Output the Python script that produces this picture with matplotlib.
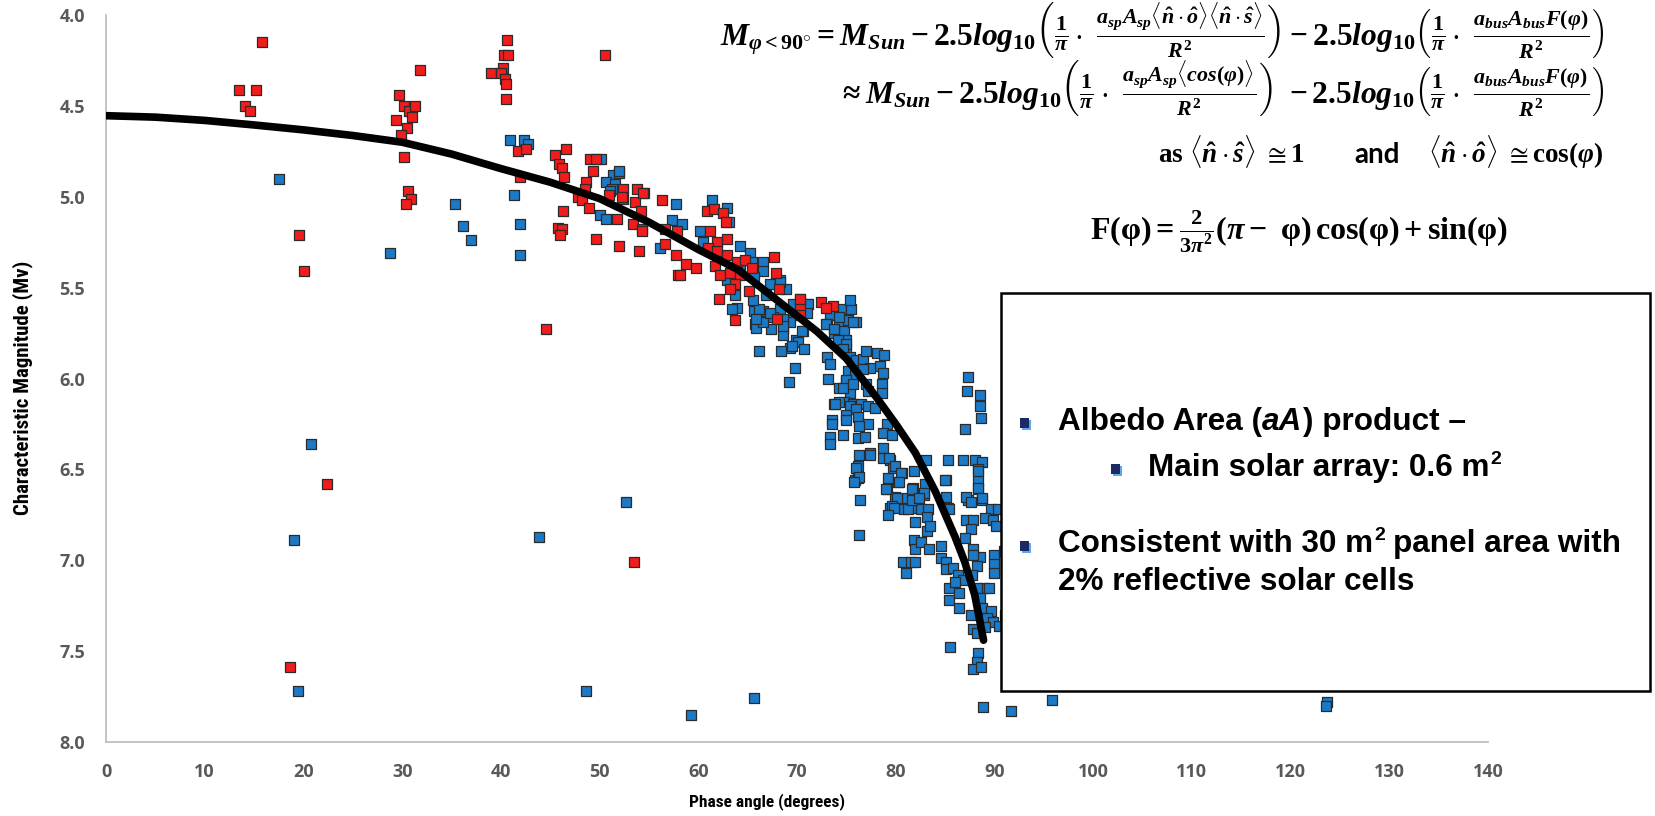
import matplotlib
matplotlib.use("Agg")
import matplotlib.pyplot as plt
from matplotlib.patches import Rectangle

# ---------------------------------------------------------------- data
blue_points = [
    (17.5, 4.90), (28.8, 5.31), (20.8, 6.36), (19.0, 6.89), (19.5, 7.72), (35.4, 5.04),
    (36.2, 5.16), (37.0, 5.24), (40.9, 4.69), (42.3, 4.69), (42.8, 4.71), (41.3, 4.99),
    (41.9, 5.15), (41.9, 5.32), (43.9, 6.87), (48.6, 7.72), (52.7, 6.68), (59.3, 7.85),
    (65.6, 7.76), (88.8, 7.81), (91.7, 7.83), (95.8, 7.77), (123.7, 7.78), (123.6, 7.80),
    (51.4, 4.88), (52.0, 4.87), (50.7, 4.92), (51.6, 4.93), (51.3, 4.96), (50.0, 5.10),
    (50.7, 5.12), (52.0, 4.86), (51.1, 4.97), (50.1, 4.79), (57.7, 5.04), (57.3, 5.13),
    (56.1, 5.28), (58.3, 5.15), (60.2, 5.19), (61.4, 5.02), (62.9, 5.06), (63.1, 5.14),
    (60.5, 5.25), (64.2, 5.27), (65.2, 5.31), (66.6, 5.36), (65.4, 5.36), (64.2, 5.37),
    (66.6, 5.41), (62.9, 5.46), (65.6, 5.44), (67.3, 5.48), (68.3, 5.46), (66.9, 5.54),
    (68.9, 5.51), (70.3, 5.56), (71.0, 5.59), (69.6, 5.59), (68.3, 5.62), (66.6, 5.63),
    (65.9, 5.66), (67.6, 5.66), (68.9, 5.68), (65.7, 5.70), (67.4, 5.73), (68.6, 5.72),
    (69.3, 5.69), (68.6, 5.76), (70.6, 5.74), (69.9, 5.79), (69.3, 5.83), (68.4, 5.85),
    (66.2, 5.85), (69.8, 5.94), (69.2, 6.02), (63.7, 5.54), (63.9, 5.61), (63.4, 5.62),
    (71.1, 5.59), (73.3, 5.65), (74.5, 5.62), (75.5, 5.62), (73.0, 5.70), (74.3, 5.70),
    (75.2, 5.68), (76.0, 5.69), (73.7, 5.75), (74.8, 5.74), (75.0, 5.79), (73.0, 5.88),
    (73.3, 5.92), (75.0, 5.84), (75.7, 5.92), (75.2, 5.96), (76.0, 5.95), (73.1, 6.00),
    (75.0, 6.02), (74.3, 6.05), (75.4, 6.08), (74.8, 6.13), (73.7, 6.14), (75.7, 6.14),
    (65.6, 5.63), (66.2, 5.62), (65.8, 5.72), (66.6, 5.69), (68.3, 5.47), (65.5, 5.57),
    (67.3, 5.64), (65.8, 5.67), (68.6, 5.67), (68.6, 5.71), (70.5, 5.74), (71.0, 5.64),
    (70.1, 5.80), (69.5, 5.82), (70.7, 5.84), (72.9, 5.70), (74.3, 5.66), (75.4, 5.57),
    (73.7, 5.73), (74.2, 5.79), (75.0, 5.81), (75.7, 5.69), (74.7, 5.84), (75.4, 5.88),
    (76.0, 5.90), (76.7, 5.89), (77.0, 5.85), (78.1, 5.86), (78.8, 5.87), (78.4, 5.93),
    (78.7, 5.97), (77.4, 5.94), (76.7, 5.95), (75.9, 5.98), (75.0, 6.01), (74.7, 6.05),
    (75.7, 6.03), (77.0, 6.03), (78.6, 6.03), (78.6, 6.08), (77.2, 6.07), (74.3, 6.13),
    (73.8, 6.14), (75.4, 6.15), (76.5, 6.14), (77.2, 6.15), (77.9, 6.16), (76.0, 6.17),
    (75.0, 6.20), (76.2, 6.21), (77.2, 6.25), (79.1, 6.25), (73.5, 6.23), (73.5, 6.25),
    (75.0, 6.23), (76.3, 6.26), (74.7, 6.31), (73.3, 6.32), (73.3, 6.36), (76.2, 6.33),
    (76.9, 6.32), (78.7, 6.30), (79.6, 6.31), (78.7, 6.38), (77.4, 6.41), (76.3, 6.42),
    (78.7, 6.44), (79.4, 6.45), (76.2, 6.48), (76.0, 6.49), (79.7, 6.49), (80.6, 6.52),
    (79.2, 6.55), (80.2, 6.57), (75.9, 6.56), (76.2, 6.55), (81.9, 6.51), (81.8, 6.60),
    (79.1, 6.61), (79.9, 6.65), (81.1, 6.66), (81.9, 6.67), (82.9, 6.64), (83.1, 6.45),
    (85.3, 6.45), (86.8, 6.45), (88.0, 6.45), (88.7, 6.46), (88.3, 6.50), (88.3, 6.56),
    (88.3, 6.61), (85.1, 6.56), (85.1, 6.65), (87.3, 6.67), (88.7, 6.67), (76.4, 6.67),
    (79.4, 6.71), (80.8, 6.72), (81.8, 6.71), (82.6, 6.72), (85.3, 6.71), (89.7, 6.72),
    (90.4, 6.72), (87.3, 5.99), (87.2, 6.07), (88.5, 6.09), (88.5, 6.15), (88.6, 6.22),
    (87.0, 6.28), (77.4, 6.42), (76.3, 6.54), (75.8, 6.57), (76.3, 6.86), (79.3, 6.44),
    (79.9, 6.48), (80.5, 6.52), (80.3, 6.57), (79.0, 6.61), (80.1, 6.66), (79.6, 6.70),
    (79.8, 6.71), (79.2, 6.75), (81.2, 6.72), (81.6, 6.61), (83.0, 6.58), (82.9, 6.63),
    (81.6, 6.67), (82.4, 6.66), (83.3, 6.72), (83.2, 6.76), (82.0, 6.79), (83.2, 6.84),
    (83.5, 6.81), (81.9, 6.89), (82.0, 6.94), (82.6, 6.90), (83.4, 6.94), (80.7, 7.01),
    (81.5, 7.01), (82.0, 7.01), (81.0, 7.07), (84.6, 6.92), (84.6, 6.99), (85.1, 7.01),
    (85.1, 7.05), (85.8, 7.04), (86.3, 7.08), (85.4, 7.15), (85.4, 7.22), (86.4, 7.18),
    (86.4, 7.26), (87.6, 7.30), (87.8, 7.38), (88.2, 7.40), (88.3, 7.51), (88.2, 7.56),
    (87.8, 7.60), (88.6, 7.59), (85.5, 7.48), (85.0, 6.56), (88.3, 6.51), (88.3, 6.60),
    (85.4, 6.72), (87.1, 6.65), (87.6, 6.68), (88.7, 6.66), (89.0, 6.77), (89.9, 6.78),
    (90.2, 6.81), (87.1, 6.78), (87.8, 6.78), (87.6, 6.83), (87.0, 6.88), (87.8, 6.94),
    (88.5, 6.98), (87.8, 6.97), (90.0, 6.97), (90.0, 7.02), (90.0, 7.07), (88.2, 7.03),
    (87.7, 7.08), (88.9, 7.15), (89.5, 7.15), (88.2, 7.15), (86.8, 7.11), (88.5, 7.21),
    (88.7, 7.26), (89.7, 7.28), (89.2, 7.32), (89.9, 7.34), (90.5, 7.36), (89.0, 7.37),
    (86.0, 7.12), (91.2, 6.75), (91.5, 6.85), (91.0, 6.95), (91.3, 7.05), (91.6, 7.20),
    (91.1, 7.30),
]

red_points = [
    (13.5, 4.41), (15.2, 4.41), (14.1, 4.50), (14.6, 4.53), (15.8, 4.15), (19.6, 5.21),
    (20.1, 5.41), (22.4, 6.58), (18.6, 7.59), (31.8, 4.30), (29.7, 4.44), (30.2, 4.50),
    (30.7, 4.53), (31.3, 4.50), (31.0, 4.56), (29.4, 4.58), (30.5, 4.62), (29.9, 4.66),
    (30.2, 4.78), (30.6, 4.97), (30.9, 5.01), (30.4, 5.04), (40.6, 4.14), (40.3, 4.22),
    (40.7, 4.22), (40.2, 4.29), (39.0, 4.32), (40.0, 4.32), (40.4, 4.35), (40.5, 4.38),
    (40.5, 4.46), (50.5, 4.22), (41.7, 4.75), (42.5, 4.74), (41.9, 4.89), (45.5, 4.77),
    (46.6, 4.74), (45.9, 4.82), (46.2, 4.84), (46.4, 4.89), (49.0, 4.79), (49.6, 4.79),
    (49.3, 4.86), (48.6, 4.92), (48.5, 4.96), (47.8, 5.00), (48.2, 5.02), (48.9, 5.06),
    (46.3, 5.08), (45.8, 5.17), (46.2, 5.18), (46.0, 5.21), (49.6, 5.23), (52.0, 5.27),
    (54.0, 5.30), (51.0, 4.99), (52.4, 4.96), (52.4, 5.01), (53.8, 4.96), (54.5, 4.98),
    (53.6, 5.03), (54.2, 5.08), (51.8, 5.12), (53.4, 5.15), (54.3, 5.18), (56.3, 5.02),
    (56.6, 5.26), (57.7, 5.32), (57.9, 5.43), (44.6, 5.73), (53.5, 7.01), (54.4, 4.98),
    (52.3, 5.00), (54.3, 5.19), (56.6, 5.18), (57.8, 5.19), (58.8, 5.37), (59.8, 5.39),
    (58.1, 5.43), (61.2, 5.19), (61.9, 5.25), (62.9, 5.23), (61.0, 5.28), (61.9, 5.30),
    (62.9, 5.32), (63.9, 5.36), (64.7, 5.35), (65.4, 5.39), (61.7, 5.38), (62.2, 5.43),
    (63.2, 5.42), (64.2, 5.43), (63.7, 5.48), (63.2, 5.51), (65.1, 5.52), (62.1, 5.56),
    (63.7, 5.68), (60.9, 5.08), (61.6, 5.07), (62.5, 5.09), (62.8, 5.14), (67.7, 5.33),
    (67.9, 5.42), (68.2, 5.51), (68.0, 5.67), (70.3, 5.60), (72.4, 5.58), (73.6, 5.60),
    (72.9, 5.61), (70.3, 5.56), (70.3, 5.65),
]

model_points = [
    (0, 4.554), (5, 4.562), (10, 4.58), (15, 4.605), (20, 4.632), (25, 4.663),
    (30, 4.70), (35, 4.765), (40, 4.845), (45, 4.92), (50, 5.01), (55, 5.14),
    (60, 5.29), (64, 5.40), (68, 5.57), (72, 5.74), (75, 5.89), (78, 6.10),
    (80, 6.25), (82, 6.41), (84, 6.62), (86, 6.87), (87, 7.01), (88, 7.19),
    (88.9, 7.44),
]

x_ticks = [0, 10, 20, 30, 40, 50, 60, 70, 80, 90, 100, 110, 120, 130, 140]
y_ticks = [4.0, 4.5, 5.0, 5.5, 6.0, 6.5, 7.0, 7.5, 8.0]

# ---------------------------------------------------------------- figure
W, H = 1655, 816
fig = plt.figure(figsize=(W / 100, H / 100), dpi=100)
fig.patch.set_facecolor("white")

plt.rcParams["mathtext.fontset"] = "custom"
plt.rcParams["mathtext.rm"] = "Liberation Serif:bold"
plt.rcParams["mathtext.it"] = "Liberation Serif:italic:bold"
plt.rcParams["mathtext.bf"] = "Liberation Serif:bold"

ax = fig.add_axes([106 / W, 1 - 742 / H, (1488 - 106) / W, (742 - 15) / H])
ax.set_xlim(0, 140)
ax.set_ylim(8.0, 4.0)

bx, by = zip(*blue_points)
rx, ry = zip(*red_points)
mx, my = zip(*model_points)

ax.scatter(bx, by, marker="s", s=46, c="#1C79C6", edgecolors="#2B2B2B",
           linewidths=0.9, zorder=3, clip_on=False)
ax.scatter(rx, ry, marker="s", s=46, c="#F21C1C", edgecolors="#2B2B2B",
           linewidths=0.9, zorder=4, clip_on=False)
ax.plot(mx, my, color="black", lw=5.5, solid_capstyle="round",
        solid_joinstyle="round", zorder=5)

for side in ("top", "right"):
    ax.spines[side].set_visible(False)
for side in ("left", "bottom"):
    ax.spines[side].set_color("#BFBFBF")
    ax.spines[side].set_linewidth(1.3)

ax.set_xticks(x_ticks)
ax.set_yticks(y_ticks)
ax.set_yticklabels([f"{v:.1f}" for v in y_ticks])
ax.tick_params(length=0, pad=15, labelcolor="#595959")
for lab in ax.get_xticklabels() + ax.get_yticklabels():
    lab.set_fontfamily("Open Sans")
    lab.set_fontweight("bold")
    lab.set_fontsize(13)

narrow = ["Roboto Condensed", "Lato"]
fig.text(23 / W, 1 - 388 / H, "Characteristic Magnitude (Mv)", rotation=90,
         ha="center", va="center", fontsize=15, fontweight="bold",
         family=narrow, color="black")
fig.text(767 / W, 1 - 802 / H, "Phase angle (degrees)", ha="center", va="center",
         fontsize=12.5, fontweight="bold", family=narrow, color="black")

# ---------------------------------------------------------------- equations
eq1 = (r"$M_{\varphi<90^{\circ}} = M_{Sun} - 2.5log_{10}\left(\frac{1}{\pi}\cdot\ "
       r"\frac{a_{sp}A_{sp}\langle\hat{n}\cdot\hat{o}\rangle\langle\hat{n}\cdot\hat{s}\rangle}{R^2}\right)"
       r" - 2.5log_{10}\left(\frac{1}{\pi}\cdot\ \frac{a_{bus}A_{bus}F(\varphi)}{R^2}\right)$")
eq2 = (r"$\approx M_{Sun} - 2.5log_{10}\left(\frac{1}{\pi}\cdot\ "
       r"\frac{a_{sp}A_{sp}\langle cos(\varphi)\rangle}{R^2}\right)\ "
       r" - 2.5log_{10}\left(\frac{1}{\pi}\cdot\ \frac{a_{bus}A_{bus}F(\varphi)}{R^2}\right)$")
fig.text(1604 / W, 1 - 30 / H, eq1, ha="right", va="center", fontsize=22.7)
fig.text(1604 / W, 1 - 88 / H, eq2, ha="right", va="center", fontsize=22.7)

renderer = fig.canvas.get_renderer()


def text_row(pieces, x, y):
    """Lay out text pieces left to right in pixel coordinates (y = baseline)."""
    for s, kw, dx, dy in pieces:
        x += dx
        t = fig.text(x / W, 1 - (y - dy) / H, s, ha="left", va="baseline", **kw)
        x += t.get_window_extent(renderer).width


# "as ... and ..." line, placed piece by piece
fig.text(1158 / W, 1 - 163 / H,
         r"$\mathrm{as}\ \langle\hat{n}\cdot\hat{s}\rangle\ \cong \mathrm{1}$",
         ha="left", va="baseline", fontsize=19.5)
fig.text(1354 / W, 1 - 163 / H, "and", ha="left", va="baseline",
         fontsize=20, family="Lato", fontweight="bold")
fig.text(1428 / W, 1 - 163 / H,
         r"$\langle\hat{n}\cdot\hat{o}\rangle\ \cong \mathrm{cos}(\varphi)$",
         ha="left", va="baseline", fontsize=19.5)

fig.text(1090 / W, 1 - 232 / H,
         r"$\mathrm{F}(\mathrm{\varphi}) = \frac{\mathrm{2}}{\mathrm{3}\pi^{\mathrm{2}}}"
         r"(\pi -\ \mathrm{\varphi})\,\mathrm{cos}(\mathrm{\varphi}) + \mathrm{sin}(\mathrm{\varphi})$",
         ha="left", va="center", fontsize=23)

# ---------------------------------------------------------------- text box
box = Rectangle((1001 / W, 1 - 691 / H), (1650 - 1001) / W, (691 - 293) / H,
                transform=fig.transFigure, facecolor="white", edgecolor="black",
                linewidth=1.8, zorder=10)
fig.add_artist(box)


def bullet(x, y):
    fig.add_artist(Rectangle(((x + 2) / W, 1 - (y + 12) / H), 9 / W, 10 / H,
                             transform=fig.transFigure, facecolor="#5FA8E8",
                             edgecolor="none", zorder=11))
    fig.add_artist(Rectangle((x / W, 1 - (y + 10) / H), 9 / W, 10 / H,
                             transform=fig.transFigure, facecolor="#1B2A63",
                             edgecolor="none", zorder=12))


body = dict(fontsize=22.7, family="Liberation Sans", fontweight="bold", zorder=13)
body_it = dict(body, fontstyle="italic")
sup = dict(fontsize=14, family="Liberation Sans", fontweight="bold", zorder=13)

bullet(1020, 418)
text_row([("Albedo Area (", body, 0, 0), ("aA", body_it, 0, 0),
          (") product \u2013", body, 1, 0)], 1058, 430)
bullet(1111, 464)
text_row([("Main solar array: 0.6 m", body, 0, 0), ("2", sup, 1, 12)], 1148, 476)
bullet(1020, 541)
text_row([("Consistent with 30 m", body, 0, 0), ("2", sup, 1, 12),
          ("panel area with", body, 8, 0)], 1058, 552)
text_row([("2% reflective solar cells", body, 0, 0)], 1058, 590)

fig.savefig("out.png", dpi=100, facecolor="white")
